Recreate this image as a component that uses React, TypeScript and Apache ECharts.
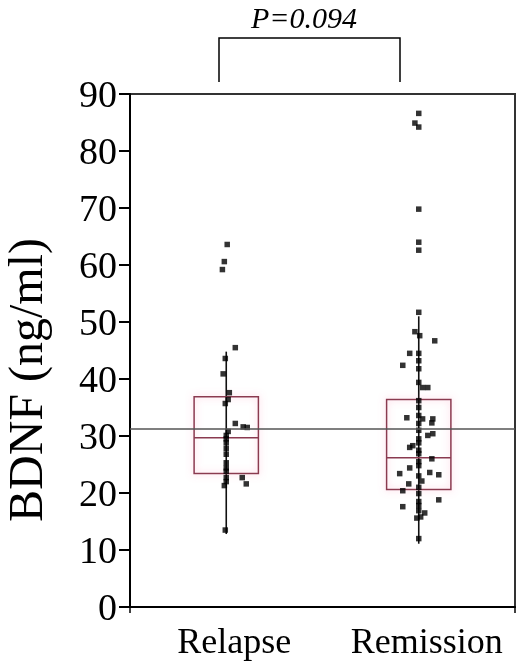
import React, { useEffect, useRef } from "react";
import * as echarts from "echarts";

const categories = ["Relapse", "Remission"];
const yTicks = [0, 10, 20, 30, 40, 50, 60, 70, 80, 90];

// box stats: [low whisker, Q1, median, Q3, high whisker]
const relapseBox = [12.8, 23.4, 29.7, 36.9, 44.8];
const remissionBox = [11.1, 20.6, 26.2, 36.4, 51.0];
const overallMean = 31.3;
const pLabel = "P=0.094";

// individual points (value) and horizontal jitter (category units)
const relapseValues = [63.6, 60.6, 59.2, 45.5, 43.6, 40.9, 37.6, 36.4, 35.7, 32.2, 31.5, 31.6, 30.8, 30.1, 29.5, 28.8, 27.8, 26.8, 25.3, 24.4, 23.8, 22.7, 22.7, 22.0, 21.6, 21.3, 13.5];
const relapseJitter = [0.005, -0.01, -0.02, 0.047, -0.005, -0.016, 0.016, 0.01, -0.005, 0.047, 0.109, 0.088, 0.01, 0, 0, 0, 0, 0, 0, 0, 0, 0, 0.083, 0, 0.104, -0.01, -0.005];

const remissionValues = [86.6, 84.9, 84.2, 69.8, 64.0, 62.6, 51.7, 48.3, 47.6, 46.7, 44.5, 44.5, 42.4, 43.2, 41.8, 39.4, 38.5, 38.5, 36.2, 35.0, 33.2, 33.6, 33.0, 33.0, 32.2, 32.3, 31.0, 30.1, 30.4, 29.5, 28.3, 28.0, 28.8, 27.5, 26.9, 26.0, 25.5, 24.8, 24.4, 23.6, 23.4, 23.2, 23.0, 22.1, 21.6, 21.0, 20.4, 19.9, 18.8, 18.5, 17.8, 17.6, 16.9, 16.5, 15.6, 15.8, 12.0];
const remissionJitter = [0, -0.02, 0, 0, 0, 0, 0, -0.02, 0.005, 0.083, -0.047, 0, -0.083, 0, 0, 0, 0.047, 0.02, 0, 0, -0.062, 0, 0.02, 0.073, 0, 0.068, 0, 0.047, 0.073, 0, -0.031, -0.047, 0, 0, 0, 0.068, 0, 0, -0.047, 0.057, -0.099, 0.104, 0, 0.016, -0.052, 0, -0.083, 0, 0.104, 0, 0, -0.083, 0, 0.031, -0.01, 0.01, 0];

const FONT = "Liberation Serif";
const BOX_COLOR = "#8a3a50";

export default function App() {
  const ref = useRef<HTMLDivElement>(null);
  useEffect(() => {
    if (!ref.current) return;
    const chart = echarts.init(ref.current, null, { renderer: "svg" });
    const points: number[][] = [];
    relapseValues.forEach((v, i) => points.push([0 + relapseJitter[i], v]));
    remissionValues.forEach((v, i) => points.push([1 + remissionJitter[i], v]));
    const boxes = [relapseBox, remissionBox].map((b, i) => [i, ...b]);

    chart.setOption({
      animation: false,
      grid: { left: 130, right: 3, top: 94, bottom: 56, show: true, borderColor: "#333", borderWidth: 2 },
      xAxis: [
        {
          type: "category",
          data: categories,
          boundaryGap: true,
          axisLine: { onZero: false, lineStyle: { color: "#000", width: 2 } },
          axisTick: { show: true, length: 6, interval: (i: number) => i === 1, lineStyle: { color: "#000", width: 1.5 } },
          axisLabel: { color: "#000", fontSize: 36, fontFamily: FONT, margin: 16, interval: 0, padding: [0, 0, 0, 16] },
        },
        { type: "value", min: -0.5, max: 1.5, show: false, axisLine: { onZero: false } },
      ],
      yAxis: {
        type: "value",
        min: 0,
        max: 90,
        interval: 10,
        axisLine: { show: true, onZero: false, lineStyle: { color: "#000", width: 2 } },
        axisTick: { show: true, length: 11, lineStyle: { color: "#000", width: 2 } },
        axisLabel: {
          color: "#000", fontSize: 38, fontFamily: FONT, margin: 13,
          formatter: (v: number) => (yTicks.includes(v) ? String(v) : ""),
        },
        splitLine: { show: false },
      },
      graphic: [
        {
          type: "text", x: 25, y: 380, rotation: Math.PI / 2,
          style: { text: "BDNF (ng/ml)", font: `48px "${FONT}"`, fill: "#000", textAlign: "center", textVerticalAlign: "middle" },
        },
        {
          type: "text", x: 304, y: 2,
          style: { text: pLabel, font: `italic 30px "${FONT}"`, fill: "#000", textAlign: "center", textVerticalAlign: "top" },
        },
        {
          type: "polyline",
          shape: { points: [[219, 82], [219, 38], [400, 38], [400, 82]] },
          style: { stroke: "#000", lineWidth: 1.5, fill: "none" },
        },
      ],
      series: [
        {
          type: "custom",
          xAxisIndex: 0,
          data: boxes,
          encode: { x: 0, y: [1, 2, 3, 4, 5] },
          renderItem: (params: any, api: any) => {
            const c = api.value(0);
            const low = api.coord([c, api.value(1)]);
            const q1 = api.coord([c, api.value(2)]);
            const med = api.coord([c, api.value(3)]);
            const q3 = api.coord([c, api.value(4)]);
            const high = api.coord([c, api.value(5)]);
            const half = api.size([1, 0])[0] * 0.167;
            const x = low[0];
            const glow = { shadowBlur: 7, shadowColor: "rgba(255,120,165,0.5)" };
            return {
              type: "group",
              children: [
                { type: "line", shape: { x1: x, y1: low[1], x2: x, y2: high[1] }, style: { stroke: "#111", lineWidth: 1.6 } },
                { type: "rect", shape: { x: x - half, y: q3[1], width: half * 2, height: q1[1] - q3[1] }, style: { stroke: BOX_COLOR, fill: "none", lineWidth: 1.5, ...glow } },
                { type: "line", shape: { x1: x - half, y1: med[1], x2: x + half, y2: med[1] }, style: { stroke: BOX_COLOR, lineWidth: 1.5 } },
                { type: "line", shape: { x1: x - half, y1: low[1], x2: x + half, y2: low[1] }, style: { stroke: BOX_COLOR, lineWidth: 1.8, ...glow } },
                { type: "line", shape: { x1: x - half, y1: high[1], x2: x + half, y2: high[1] }, style: { stroke: BOX_COLOR, lineWidth: 1.8, ...glow } },
              ],
            };
          },
          z: 2,
        },
        {
          type: "scatter",
          xAxisIndex: 1,
          data: points,
          symbol: "rect",
          symbolSize: 5.5,
          itemStyle: { color: "#000" },
          z: 3,
          markLine: {
            silent: true,
            symbol: "none",
            label: { show: false },
            lineStyle: { color: "#555", width: 1.5, type: "solid" },
            data: [{ yAxis: overallMean }],
          },
        },
      ],
    });
    return () => chart.dispose();
  }, []);
  return <div ref={ref} style={{ position: "fixed", left: 0, top: 0, width: 518, height: 663 }} />;
}
